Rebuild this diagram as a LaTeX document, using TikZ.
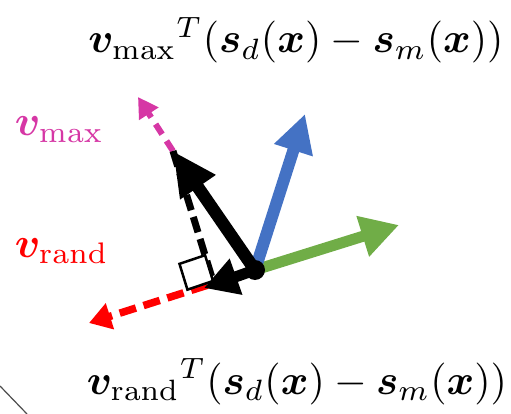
\documentclass[tikz,border=0pt]{standalone}
\usepackage{amsmath,bm}
\usetikzlibrary{arrows.meta,calc}
\definecolor{myblue}{RGB}{68,114,196}
\definecolor{mygreen}{RGB}{112,173,71}
\definecolor{mymag}{RGB}{214,55,165}
\definecolor{myred}{RGB}{255,0,0}
\tikzset{
  formula/.style={inner sep=0pt, scale=4.2, anchor=base},
  lbl/.style={inner sep=0pt, scale=4.25, anchor=base west},
}
\begin{document}
\begin{tikzpicture}[x=1pt,y=-1pt]
\useasboundingbox (0,0) rectangle (511,414);
\coordinate (O) at (255,270);
\coordinate (B) at (305,114);
\coordinate (G) at (399,225);
\coordinate (K) at (173,151);
\coordinate (M) at (138,97);
\coordinate (R) at (89,323);
\coordinate (P) at (213,281);
\coordinate (Pt) at (204,288);
\coordinate (S0) at (0,386);
\coordinate (S1) at (27,414);
\coordinate (Q1) at ($(P)!27pt!(R)$);
\coordinate (Q3) at ($(P)!27pt!(K)$);
\coordinate (Q2) at ($(Q1)+(Q3)-(P)$);
% stray line
\draw[line width=1.2pt, black!70] (S0) -- (S1);
% dashed guides
\draw[myred, line width=7.5pt, dash pattern=on 17pt off 8pt, -{Triangle[length=22pt,width=26pt]}] (O) -- (R);
\draw[mymag, line width=6pt, dash pattern=on 12pt off 8pt, -{Triangle[length=20pt,width=22pt]}] (K) -- (M);
\draw[black, line width=7pt, dash pattern=on 16pt off 7pt] (K) -- (P);
% right angle marker
\draw[line width=2.5pt, fill=white] (P) -- (Q1) -- (Q2) -- (Q3) -- cycle;
% vectors
\draw[mygreen, line width=11pt, -{Triangle[length=38pt,width=40pt]}] (O) -- (G);
\draw[myblue, line width=12pt, -{Triangle[length=38pt,width=38pt]}] (O) -- (B);
\draw[black, line width=12.5pt, -{Triangle[length=44pt,width=40pt]}] (O) -- (K);
\draw[black, line width=11pt, -{Triangle[length=34pt,width=36pt]}] (O) -- (Pt);
\fill[black] (O) circle (10pt);
% texts
\node[formula] (t1) at (296,53) {$\bm{v}_{\max}{}^T(\bm{s}_d(\bm{x})-\bm{s}_m(\bm{x}))$};
\node[formula] (t2) at (297,394) {$\bm{v}_{\mathrm{rand}}{}^T(\bm{s}_d(\bm{x})-\bm{s}_m(\bm{x}))$};
\node[lbl, text=mymag] (l1) at (14,136) {$\bm{v}_{\max}$};
\node[lbl, text=myred] (l2) at (14,257) {$\bm{v}_{\mathrm{rand}}$};
\end{tikzpicture}
\end{document}
